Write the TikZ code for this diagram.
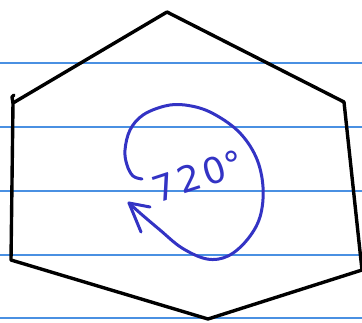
\documentclass[tikz,border=0pt]{standalone}
\usepackage{fontspec}
\setmainfont{DejaVu Sans}
\definecolor{ruleblue}{HTML}{4A90E2}
\definecolor{inkblue}{HTML}{3333C4}
\tikzset{
  ruleline/.style={ruleblue, line width=1.3pt},
  hexline/.style={black, line width=3.4pt, line join=round, line cap=round},
  inkline/.style={inkblue, line width=3pt, line join=round, line cap=round},
}
\begin{document}
\begin{tikzpicture}[x=1pt,y=-1pt]
\useasboundingbox (0,0) rectangle (362,322);
% ruled paper lines
\foreach \yy in {63,127,191,255,318}
  \draw[ruleline] (0,\yy) -- (362,\yy);
% hexagon vertices
\coordinate (T) at (167,12);
\coordinate (UL) at (13,103);
\coordinate (LL) at (11,260);
\coordinate (B) at (208,319);
\coordinate (LR) at (362,270);
\coordinate (UR) at (344,102);
\draw[hexline] (T) -- (UL) -- (LL) -- (B) -- (LR) -- (UR) -- cycle;
\draw[hexline] (UL) -- (12,97) -- (14,95);
% rotation spiral
\coordinate (tip) at (129,203);
\draw[inkline] plot[smooth, tension=0.6] coordinates {
  (142,179) (133,176) (127,165) (125,150) (130,130) (143,115) (165,106)
  (185,105) (210,112) (238,131) (256,157) (263,187) (260,217) (247,240)
  (228,256) (207,259) (182,248) (160,230) (140,213) (129,203)};
\draw[inkline] (150,207) -- (tip) -- (141,232);
% label
\node[inkblue, rotate=18, font=\fontsize{36}{40}\selectfont, inner sep=0pt] (lbl) at (198,176) {7\kern4pt2\kern3pt0\kern1pt°};
\end{tikzpicture}
\end{document}
